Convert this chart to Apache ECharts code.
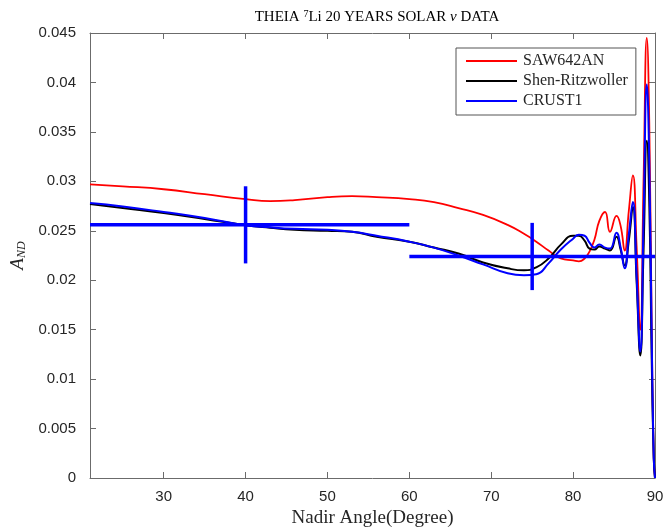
<!DOCTYPE html>
<html>
<head>
<meta charset="utf-8">
<script src="https://cdn.jsdelivr.net/npm/echarts@6/dist/echarts.min.js"></script>
<style>
  html, body { margin: 0; padding: 0; background: #fff; }
  #chart { width: 663px; height: 530px; }
</style>
</head>
<body>
<div id="chart"></div>
<script>
// Nadir angle samples (degrees)
const angles = [21, 25, 30, 35, 40, 43, 46, 50, 53, 56, 60, 63, 66, 69, 72, 74, 75.5, 77, 78.5, 80,
  80.7, 81.4, 82, 82.6, 83.2, 83.9, 84.5, 85.3, 85.8, 86.3, 86.8, 87.3, 87.75, 88.2, 88.6, 89.0, 89.3, 89.6, 89.85, 90];

// Day-night asymmetry A_ND for each crust model
const saw642an = [0.0297, 0.0295, 0.0292, 0.0287, 0.0282, 0.0280, 0.0281, 0.0284, 0.0285, 0.0284,
  0.0282, 0.0279, 0.0273, 0.0266, 0.0256, 0.0247, 0.0239, 0.0230, 0.0222, 0.0220,
  0.0219, 0.0222, 0.0229, 0.0241, 0.0260, 0.0269, 0.0249, 0.0265, 0.0255, 0.0230,
  0.0270, 0.0306, 0.0235, 0.0150, 0.0300, 0.0445, 0.0360, 0.0150, 0.0020, 0.0000];

const shenRitzwoller = [0.0277, 0.0273, 0.0268, 0.0262, 0.02556, 0.0253, 0.0251, 0.0250, 0.0249, 0.0244,
  0.0239, 0.0233, 0.0227, 0.0218, 0.0212, 0.0210, 0.0213, 0.0222, 0.0236, 0.0245,
  0.0245, 0.0240, 0.0232, 0.0231, 0.0234, 0.0232, 0.0230, 0.0244, 0.0231, 0.0215,
  0.0240, 0.0274, 0.0200, 0.0124, 0.0230, 0.0341, 0.0280, 0.0120, 0.0020, 0.0000];

const crust1 = [0.0278, 0.02745, 0.0269, 0.0263, 0.02556, 0.02535, 0.0252, 0.0251, 0.0249, 0.0245,
  0.0239, 0.0233, 0.0225, 0.0216, 0.0207, 0.0205, 0.0206, 0.0217, 0.0231, 0.0242,
  0.0246, 0.0245, 0.0238, 0.0233, 0.0236, 0.0233, 0.0232, 0.0248, 0.0233, 0.0212,
  0.0246, 0.0279, 0.0205, 0.0128, 0.0260, 0.0398, 0.0320, 0.0140, 0.0020, 0.0000];

// Binned measurement with error bars
const binCenter = [40, 75];
const binLow = [21, 60];
const binHigh = [60, 90];
const binValue = [0.0256, 0.0224];
const binError = [0.0039, 0.0034];

// Axis ticks
const xTicks = [30, 40, 50, 60, 70, 80, 90];

const pairs = (ys) => angles.map((a, i) => [a, ys[i]]);
const errData = binCenter.map((c, i) => [c, binLow[i], binHigh[i], binValue[i], binValue[i] - binError[i], binValue[i] + binError[i]]);

const axisColor = '#6b6b6b';
const labelColor = '#262626';
const serif = '"Liberation Serif", "DejaVu Serif", serif';
const sans = '"Liberation Sans", Arial, sans-serif';

const chart = echarts.init(document.getElementById('chart'), null, { renderer: 'canvas' });

chart.setOption({
  animation: false,
  backgroundColor: '#fff',
  title: {
    text: '{t|THEIA }{sup|7}{t|Li 20 YEARS SOLAR }{nu|ν}{t| DATA}',
    left: 372,
    textAlign: 'center',
    top: 4,
    textStyle: {
      fontWeight: 'normal',
      rich: {
        t: { fontFamily: serif, fontSize: 15, fontWeight: 'normal', color: '#000' },
        sup: { fontFamily: serif, fontSize: 10, fontWeight: 'normal', color: '#000', verticalAlign: 'top', padding: [0, 0, 6, 0] },
        nu: { fontFamily: serif, fontSize: 15, fontWeight: 'normal', fontStyle: 'italic', color: '#000' }
      }
    }
  },
  legend: {
    orient: 'vertical',
    left: 456,
    top: 48,
    icon: 'rect',
    itemWidth: 51,
    itemHeight: 2,
    itemGap: 4,
    padding: [5, 8, 6, 10],
    borderColor: '#555',
    borderWidth: 1,
    backgroundColor: '#fff',
    textStyle: { fontFamily: serif, fontSize: 16, lineHeight: 14, color: labelColor, padding: [0, 0, 0, 1] },
    data: ['SAW642AN', 'Shen-Ritzwoller', 'CRUST1']
  },
  grid: { left: 90, right: 8, top: 33, bottom: 52, containLabel: false, outerBoundsMode: 'none' },
  xAxis: [{
    type: 'value',
    min: 21,
    max: 90,
    name: 'Nadir Angle(Degree)',
    nameLocation: 'middle',
    nameGap: 31,
    nameTextStyle: { fontFamily: serif, fontSize: 19, color: labelColor },
    axisLine: { show: true, onZero: false, lineStyle: { color: axisColor, width: 1 } },
    axisTick: { show: true, inside: true, length: 6, customValues: xTicks, lineStyle: { color: axisColor } },
    axisLabel: { customValues: xTicks, fontFamily: sans, fontSize: 15, color: labelColor, margin: 11 },
    splitLine: { show: false }
  }, {
    type: 'value',
    position: 'top',
    min: 21,
    max: 90,
    axisLine: { show: true, onZero: false, lineStyle: { color: axisColor, width: 1 } },
    axisTick: { show: true, inside: true, length: 6, customValues: xTicks, lineStyle: { color: axisColor } },
    axisLabel: { show: false },
    splitLine: { show: false }
  }],
  yAxis: [{
    type: 'value',
    min: 0,
    max: 0.045,
    interval: 0.005,
    name: '{a|A}{s|ND}',
    nameLocation: 'middle',
    nameRotate: 90,
    nameGap: 60,
    nameTextStyle: {
      rich: {
        a: { fontFamily: serif, fontSize: 19, fontStyle: 'italic', color: labelColor },
        s: { fontFamily: serif, fontSize: 12, fontStyle: 'italic', color: labelColor, verticalAlign: 'bottom', padding: [7, 0, 0, 0] }
      }
    },
    axisLine: { show: true, onZero: false, lineStyle: { color: axisColor, width: 1 } },
    axisTick: { show: true, inside: true, length: 6, lineStyle: { color: axisColor } },
    axisLabel: { fontFamily: sans, fontSize: 15, color: labelColor, margin: 14 },
    splitLine: { show: false }
  }, {
    type: 'value',
    position: 'right',
    min: 0,
    max: 0.045,
    interval: 0.005,
    axisLine: { show: true, onZero: false, lineStyle: { color: axisColor, width: 1 } },
    axisTick: { show: true, inside: true, length: 6, lineStyle: { color: axisColor } },
    axisLabel: { show: false },
    splitLine: { show: false }
  }],
  series: [
    {
      name: 'SAW642AN',
      type: 'line',
      data: pairs(saw642an),
      smooth: 0.5,
      showSymbol: false,
      symbol: 'none',
      color: '#ff0000',
      lineStyle: { color: '#ff0000', width: 1.8 },
      z: 2
    },
    {
      name: 'Shen-Ritzwoller',
      type: 'line',
      data: pairs(shenRitzwoller),
      smooth: 0.5,
      showSymbol: false,
      symbol: 'none',
      color: '#000000',
      lineStyle: { color: '#000000', width: 2 },
      z: 3
    },
    {
      name: 'CRUST1',
      type: 'line',
      data: pairs(crust1),
      smooth: 0.5,
      showSymbol: false,
      symbol: 'none',
      color: '#0000ff',
      lineStyle: { color: '#0000ff', width: 2 },
      z: 4
    },
    {
      name: 'binned',
      type: 'custom',
      data: errData,
      encode: { x: [0, 1, 2], y: [3, 4, 5] },
      z: 5,
      renderItem: function (params, api) {
        const xc = api.value(0), xl = api.value(1), xh = api.value(2);
        const y = api.value(3), yl = api.value(4), yh = api.value(5);
        const a = api.coord([xl, y]), b = api.coord([xh, y]);
        const c = api.coord([xc, yl]), d = api.coord([xc, yh]);
        const style = { stroke: '#0000ff', lineWidth: 3.5 };
        return {
          type: 'group',
          children: [
            { type: 'line', shape: { x1: a[0], y1: a[1], x2: b[0], y2: b[1] }, style: style },
            { type: 'line', shape: { x1: c[0], y1: c[1], x2: d[0], y2: d[1] }, style: style }
          ]
        };
      }
    }
  ]
});
</script>
</body>
</html>
